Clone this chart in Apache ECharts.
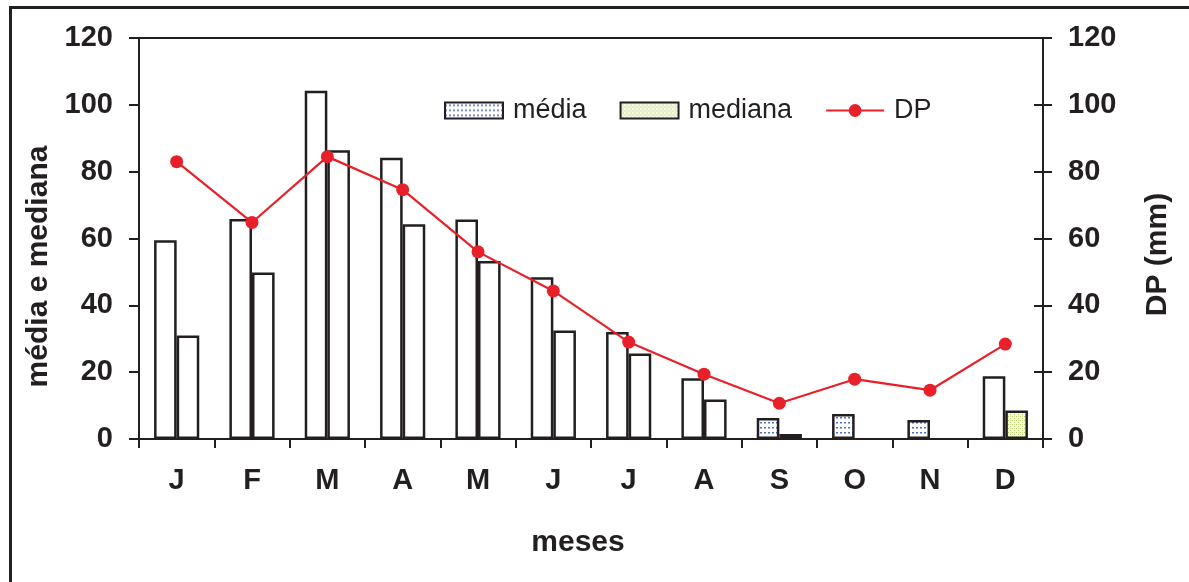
<!DOCTYPE html>
<html>
<head>
<meta charset="utf-8">
<script src="https://cdn.jsdelivr.net/npm/echarts@6/dist/echarts.min.js"></script>
<style>
  html, body { margin: 0; padding: 0; background: #fff; }
  #chart { width: 1189px; height: 582px; }
</style>
</head>
<body>
<div id="chart"></div>
<script>
// Monthly rainfall: mean, median and standard deviation (DP)
const months = ['J', 'F', 'M', 'A', 'M', 'J', 'J', 'A', 'S', 'O', 'N', 'D'];
const media = [59.5, 65.8, 104.2, 84.2, 65.7, 48.4, 32.0, 18.2, 6.3, 7.5, 5.7, 18.8];
const mediana = [31.0, 49.8, 86.4, 64.3, 53.3, 32.5, 25.6, 11.8, 1.5, 0, 0, 8.5];
const dp = [83.0, 64.8, 84.5, 74.6, 56.0, 44.3, 29.0, 19.4, 10.7, 17.9, 14.6, 28.4];
const yTicks = [0, 20, 40, 60, 80, 100, 120];

const ink = '#231f20';
const font = '"Liberation Sans", Arial, Helvetica, sans-serif';

// Small tiled canvases used as fill patterns
function makePattern(w, h, bg, draw) {
  const c = document.createElement('canvas');
  c.width = w; c.height = h;
  const g = c.getContext('2d');
  g.fillStyle = bg; g.fillRect(0, 0, w, h);
  draw(g);
  return { image: c, repeat: 'repeat' };
}
const dashFill = makePattern(4, 5, '#ffffff', g => {
  g.fillStyle = '#4f6fc4';
  g.fillRect(0, 2, 2, 1.5);
});
const stippleFill = makePattern(4, 4, '#f5f9e8', g => {
  g.fillStyle = '#b3cf63';
  g.fillRect(0, 0, 1, 1);
  g.fillRect(2, 2, 1, 1);
  g.fillStyle = '#d3e39c';
  g.fillRect(2, 0, 1, 1);
});

// Short bars (below 10) are drawn with their pattern fill, taller ones plain;
// empty months leave no outline on the baseline
function barData(values, fill) {
  return values.map(v => ({
    value: v,
    itemStyle: v === 0
      ? { borderWidth: 0, color: 'transparent' }
      : { color: v < 10 ? fill : '#ffffff' }
  }));
}

const barStyle = { borderColor: ink, borderWidth: 2.5 };
const boldLabel = { color: ink, fontFamily: font, fontWeight: 'bold', fontSize: 29 };
const nameLabel = { color: ink, fontFamily: font, fontWeight: 'bold', fontSize: 30 };

const chart = echarts.init(document.getElementById('chart'), null, { renderer: 'canvas' });
chart.setOption({
  animation: false,
  backgroundColor: '#ffffff',
  graphic: [{
    type: 'rect',
    left: 8, top: 5,
    shape: { width: 1240, height: 640 },
    style: { fill: 'none', stroke: ink, lineWidth: 3 },
    silent: true
  }],
  grid: {
    left: 139, right: 146, top: 38, bottom: 143,
    show: true, borderColor: ink, borderWidth: 2, backgroundColor: 'transparent'
  },
  legend: {
    left: 439, top: 92,
    itemWidth: 58, itemHeight: 16, itemGap: 33,
    textStyle: { color: ink, fontFamily: font, fontSize: 27, padding: [0, 0, 0, 5] },
    data: [
      { name: 'média', icon: 'rect', itemStyle: { color: dashFill, borderColor: ink, borderWidth: 2 } },
      { name: 'mediana', icon: 'rect', itemStyle: { color: stippleFill, borderColor: ink, borderWidth: 2 } },
      { name: 'DP' }
    ]
  },
  xAxis: {
    type: 'category',
    data: months,
    boundaryGap: true,
    axisLine: { lineStyle: { color: ink, width: 2 } },
    axisTick: { show: true, length: 9, lineStyle: { color: ink, width: 2 } },
    axisLabel: Object.assign({ margin: 27 }, boldLabel),
    name: 'meses',
    nameLocation: 'middle',
    nameGap: 89,
    nameTextStyle: Object.assign({ padding: [0, 26, 0, 0] }, nameLabel)
  },
  yAxis: [
    {
      type: 'value', position: 'left', min: 0, max: 120, interval: 20,
      axisLine: { show: true, lineStyle: { color: ink, width: 2 } },
      axisTick: { show: true, length: 10, lineStyle: { color: ink, width: 2 } },
      axisLabel: Object.assign({ margin: 26, formatter: v => yTicks.includes(v) ? String(v) : '' }, boldLabel),
      splitLine: { show: false },
      name: 'média e mediana',
      nameLocation: 'middle',
      nameRotate: 90,
      nameGap: 77,
      nameTextStyle: Object.assign({ padding: [0, 56, 0, 0] }, nameLabel)
    },
    {
      type: 'value', position: 'right', min: 0, max: 120, interval: 20,
      axisLine: { show: true, lineStyle: { color: ink, width: 2 } },
      axisTick: { show: true, length: 9, lineStyle: { color: ink, width: 2 } },
      axisLabel: Object.assign({ margin: 25, formatter: v => yTicks.includes(v) ? String(v) : '' }, boldLabel),
      splitLine: { show: false },
      name: 'DP (mm)',
      nameLocation: 'middle',
      nameRotate: 90,
      nameGap: 100,
      nameTextStyle: Object.assign({ padding: [0, 32, 0, 0] }, nameLabel)
    },
    {
      // inner half of the crossing ticks on the right axis
      type: 'value', position: 'right', min: 0, max: 120, interval: 20,
      axisLine: { show: false },
      axisTick: { show: true, inside: true, length: 9, lineStyle: { color: ink, width: 2 } },
      axisLabel: { show: false },
      splitLine: { show: false }
    }
  ],
  series: [
    {
      name: 'média', type: 'bar', yAxisIndex: 0,
      data: barData(media, dashFill),
      barCategoryGap: '40%', barGap: '0%',
      itemStyle: Object.assign({ color: '#ffffff' }, barStyle)
    },
    {
      name: 'mediana', type: 'bar', yAxisIndex: 0,
      data: barData(mediana, stippleFill),
      barCategoryGap: '40%', barGap: '0%',
      itemStyle: Object.assign({ color: '#ffffff' }, barStyle)
    },
    {
      name: 'DP', type: 'line', yAxisIndex: 1,
      data: dp,
      symbol: 'circle', symbolSize: 13,
      lineStyle: { color: '#e8202a', width: 2.2 },
      itemStyle: { color: '#e8202a' },
      z: 5
    }
  ]
});
</script>
</body>
</html>
